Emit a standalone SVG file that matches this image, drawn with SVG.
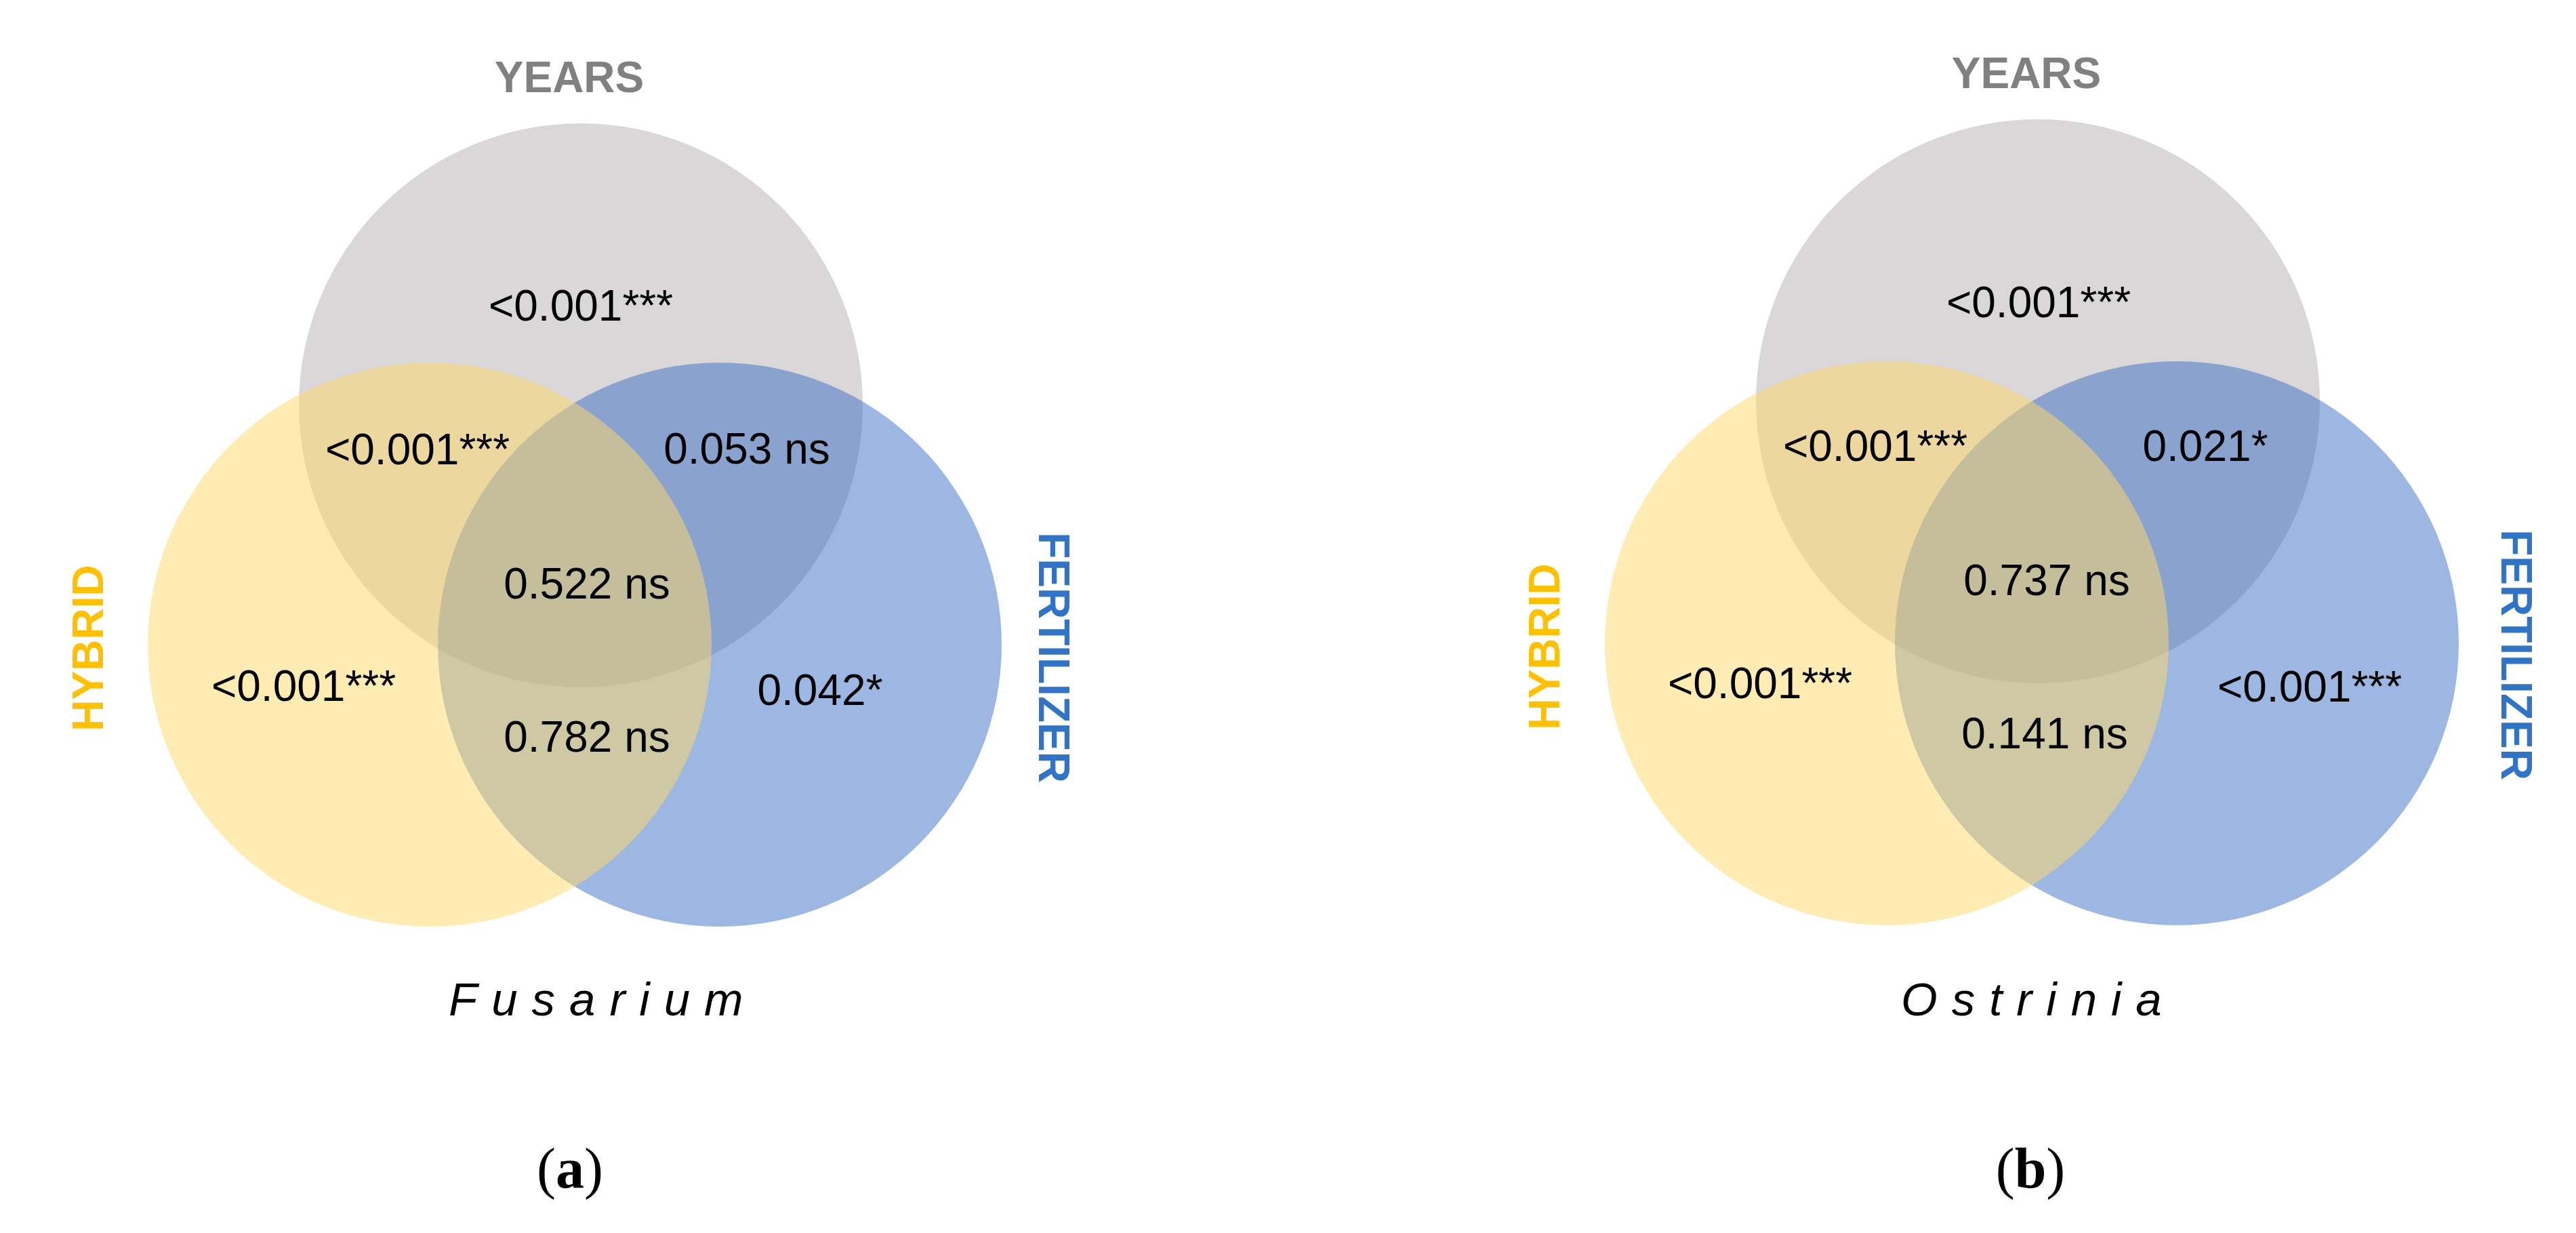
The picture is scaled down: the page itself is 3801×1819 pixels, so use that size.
<svg xmlns="http://www.w3.org/2000/svg" width="3801" height="1819" viewBox="0 0 3801 1819">
<style>
.bg{fill:#ffffff}
.gray{fill:#D9D7D8}
.blue{fill:#3A70C4;fill-opacity:0.5}
.yellow{fill:#FFD966;fill-opacity:0.5}
.val{font-family:"Liberation Sans",Arial,sans-serif;font-size:64px;fill:#000;text-anchor:middle}
.cat{font-family:"Liberation Sans",Arial,sans-serif;font-size:64px;font-weight:bold;text-anchor:middle}
.years{fill:#808080}
.hybrid{fill:#FFC000}
.fert{fill:#2F74C6}
.sp{font-family:"Liberation Sans",Arial,sans-serif;font-size:69px;font-style:italic;fill:#000;letter-spacing:21px}
.lab{font-family:"Liberation Serif","Times New Roman",serif;font-size:84px;fill:#000;text-anchor:middle}
</style>
<rect class="bg" x="0" y="0" width="3801" height="1819"/>
<g id="connectors"></g>

<g id="venn-a">
  <g id="a-years"><circle class="gray" cx="857" cy="598" r="416"/></g>
  <g id="a-fertilizer"><circle class="blue" cx="1062" cy="951" r="416"/></g>
  <g id="a-hybrid"><circle class="yellow" cx="634" cy="951" r="416"/></g>
  <text class="cat years" x="840" y="136">YEARS</text>
  <text class="cat hybrid" transform="translate(152 956) rotate(-90)">HYBRID</text>
  <text class="cat fert" transform="translate(1533 970) rotate(90)">FERTILIZER</text>
  <text class="val" x="857" y="473">&lt;0.001***</text>
  <text class="val" x="616" y="685">&lt;0.001***</text>
  <text class="val" x="1102" y="684">0.053 ns</text>
  <text class="val" x="866" y="883">0.522 ns</text>
  <text class="val" x="448" y="1034">&lt;0.001***</text>
  <text class="val" x="866" y="1109">0.782 ns</text>
  <text class="val" x="1210" y="1040">0.042*</text>
  <text class="sp" x="662" y="1498">Fusarium</text>
  <text class="lab" x="841" y="1752">(<tspan font-weight="bold">a</tspan>)</text>
</g>

<g id="venn-b">
  <g id="b-years"><circle class="gray" cx="3007" cy="592" r="416"/></g>
  <g id="b-fertilizer"><circle class="blue" cx="3212" cy="949" r="416"/></g>
  <g id="b-hybrid"><circle class="yellow" cx="2784" cy="949" r="416"/></g>
  <text class="cat years" x="2990" y="130">YEARS</text>
  <text class="cat hybrid" transform="translate(2301 954) rotate(-90)">HYBRID</text>
  <text class="cat fert" transform="translate(3691 966) rotate(90)">FERTILIZER</text>
  <text class="val" x="3008" y="468">&lt;0.001***</text>
  <text class="val" x="2767" y="680">&lt;0.001***</text>
  <text class="val" x="3254" y="680">0.021*</text>
  <text class="val" x="3020" y="878">0.737 ns</text>
  <text class="val" x="2597" y="1030">&lt;0.001***</text>
  <text class="val" x="3017" y="1104">0.141 ns</text>
  <text class="val" x="3408" y="1035">&lt;0.001***</text>
  <text class="sp" x="2805" y="1498">Ostrinia</text>
  <text class="lab" x="2996" y="1752">(<tspan font-weight="bold">b</tspan>)</text>
</g>
</svg>
